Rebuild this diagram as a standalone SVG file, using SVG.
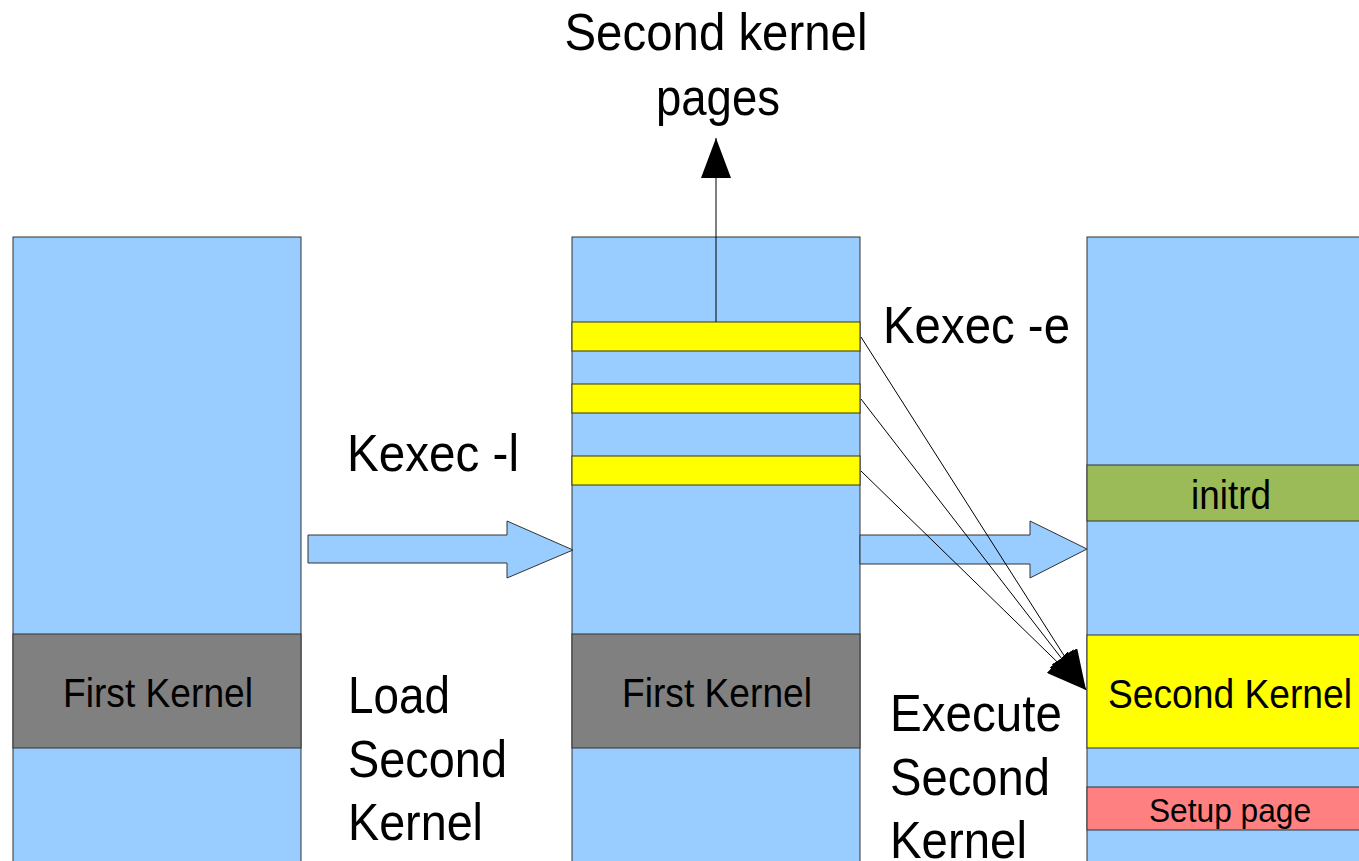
<svg xmlns="http://www.w3.org/2000/svg" width="1359" height="861" viewBox="0 0 1359 861">
<defs>
<style>
.col{fill:#99ccff;stroke:#333;stroke-width:1}
.band{stroke:#333;stroke-width:1}
.big{font-family:"Liberation Sans",Arial,sans-serif;font-size:52px;fill:#000}
.mid{font-family:"Liberation Sans",Arial,sans-serif;font-size:40px;fill:#000;text-anchor:middle}
.thin{stroke:#000;stroke-width:1;fill:none}
.block{fill:#99ccff;stroke:#333;stroke-width:1}
</style>
<marker id="ah" markerUnits="userSpaceOnUse" markerWidth="40" markerHeight="30" refX="40" refY="15" orient="auto" viewBox="0 0 40 30">
<path d="M0,0 L40,15 L0,30 Z" fill="#000"/>
</marker>
</defs>
<rect width="1359" height="861" fill="#fff"/>

<g id="memory-left">
<rect class="col" x="13" y="237" width="288" height="640"/>
<rect class="band" x="13" y="634" width="288" height="114" fill="#808080"/>
<text class="mid" x="158" y="707" textLength="190" lengthAdjust="spacingAndGlyphs">First Kernel</text>
</g>

<g id="memory-middle">
<rect class="col" x="572" y="237" width="288" height="640"/>
<rect class="band" x="572" y="322" width="288" height="29" fill="#ffff00"/>
<rect class="band" x="572" y="384" width="288" height="29" fill="#ffff00"/>
<rect class="band" x="572" y="456" width="288" height="29" fill="#ffff00"/>
<rect class="band" x="572" y="634" width="288" height="114" fill="#808080"/>
<text class="mid" x="717" y="707" textLength="190" lengthAdjust="spacingAndGlyphs">First Kernel</text>
</g>

<g id="memory-right">
<rect class="col" x="1087" y="237" width="288" height="640"/>
<rect class="band" x="1087" y="465" width="288" height="56" fill="#9bbb59"/>
<text class="mid" x="1231" y="509" textLength="80" lengthAdjust="spacingAndGlyphs">initrd</text>
<rect class="band" x="1087" y="635" width="288" height="113" fill="#ffff00"/>
<text class="mid" x="1230" y="708" textLength="244" lengthAdjust="spacingAndGlyphs">Second Kernel</text>
<rect class="band" x="1087" y="787" width="288" height="43" fill="#ff8080"/>
<text class="mid" x="1230" y="822" style="font-size:34px" textLength="162" lengthAdjust="spacingAndGlyphs">Setup page</text>
</g>

<g id="labels">
<text class="big" x="716" y="50" text-anchor="middle" textLength="303" lengthAdjust="spacingAndGlyphs">Second kernel</text>
<text class="big" x="718" y="115" text-anchor="middle" textLength="124" lengthAdjust="spacingAndGlyphs">pages</text>
<text class="big" x="883" y="343" textLength="187" lengthAdjust="spacingAndGlyphs">Kexec -e</text>
<text class="big" x="347" y="471" textLength="172" lengthAdjust="spacingAndGlyphs">Kexec -l</text>
<text class="big" x="348" y="713" textLength="102" lengthAdjust="spacingAndGlyphs">Load</text>
<text class="big" x="348" y="777" textLength="159" lengthAdjust="spacingAndGlyphs">Second</text>
<text class="big" x="348" y="840" textLength="135" lengthAdjust="spacingAndGlyphs">Kernel</text>
<text class="big" x="890" y="731" textLength="172" lengthAdjust="spacingAndGlyphs">Execute</text>
<text class="big" x="890" y="795" textLength="160" lengthAdjust="spacingAndGlyphs">Second</text>
<text class="big" x="890" y="858" textLength="137" lengthAdjust="spacingAndGlyphs">Kernel</text>
</g>

<g id="connectors">
<line class="thin" x1="716" y1="322" x2="716" y2="138" marker-end="url(#ah)"/>
<polygon class="block" points="308,535 507,535 507,521 573,550 507,578 507,563 308,563"/>
<polygon class="block" points="860,535 1030,535 1030,521 1087,549 1030,578 1030,564 860,564"/>
<line class="thin" x1="861" y1="337" x2="1086" y2="690" marker-end="url(#ah)"/>
<line class="thin" x1="861" y1="399" x2="1086" y2="690" marker-end="url(#ah)"/>
<line class="thin" x1="861" y1="471" x2="1086" y2="690" marker-end="url(#ah)"/>
</g>
</svg>
